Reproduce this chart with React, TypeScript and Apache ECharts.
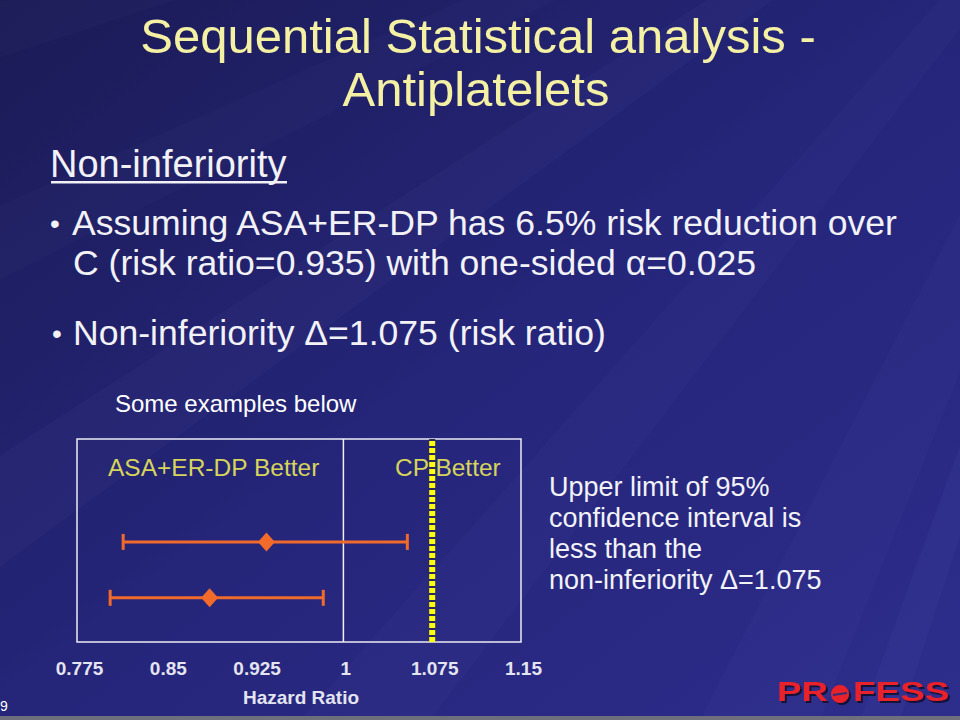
import React, { useEffect, useRef } from "react";
import * as echarts from "echarts";

// ---- data ----
const exampleNames = ["Example 1", "Example 2"];
const rowIndex = [2, 1];
const hazardRatio = [0.935, 0.887];
const lowerCI = [0.814, 0.803];
const upperCI = [1.054, 0.983];
const xTicks = [0.775, 0.85, 0.925, 1, 1.075, 1.15];
const nullValue = 1;
const nonInferiorityDelta = 1.075;
const yExtent = [0.21, 3.84];

const titleLines = ["Sequential Statistical analysis -", "Antiplatelets"];
const heading = "Non-inferiority";
const bullet1 = ["Assuming ASA+ER-DP has 6.5% risk reduction over", "C (risk ratio=0.935) with one-sided \u03b1=0.025"];
const bullet2 = "Non-inferiority \u0394=1.075 (risk ratio)";
const noteText = "Some examples below";
const leftLabel = "ASA+ER-DP Better";
const rightLabel = "CP Better";
const sideText = ["Upper limit of 95%", "confidence interval is", "less than the", "non-inferiority \u0394=1.075"];

const FONT = "'Liberation Sans', Arial, sans-serif";

export default function App() {
  const ref = useRef<HTMLDivElement>(null);
  useEffect(() => {
    if (!ref.current) return;
    const chart = echarts.init(ref.current, undefined, { renderer: "svg" });

    const errData = rowIndex.map((r, i) => [r, lowerCI[i], upperCI[i], exampleNames[i]]);
    const pointData = rowIndex.map((r, i) => [hazardRatio[i], r]);

    // background rays from upper-right
    const rays: any[] = [];
    const origin = [1250, -350];
    const rayDefs = [
      [[980, 720], [1060, 720], 0.04],
      [[700, 720], [820, 720], 0.028],
      [[300, 720], [430, 720], 0.025],
      [[-100, 520], [-100, 640], 0.03],
      [[-100, 250], [-100, 330], 0.025],
      [[-100, 30], [-100, 90], 0.02],
      [[860, 720], [900, 720], 0.035],
    ];
    rayDefs.forEach((d: any) => {
      rays.push({
        type: "polygon",
        z: -10,
        silent: true,
        shape: { points: [origin, d[0], d[1]] },
        style: { fill: `rgba(180,190,255,${d[2]})` },
      });
    });

    const txt = (text: string, x: number, y: number, font: string, fill: string, align = "left", extra: any = {}) => ({
      type: "text",
      x,
      y,
      z: 50,
      silent: true,
      ...extra,
      style: { text, x: 0, y: 0, font, fill, textAlign: align, textVerticalAlign: "middle", ...(extra.style || {}) },
    });

    const graphics: any[] = [
      ...rays,
      txt(titleLines[0], 478, 36, `49px ${FONT}`, "#f4f0a4", "center"),
      txt(titleLines[1], 476, 89, `49px ${FONT}`, "#f4f0a4", "center"),
      txt(heading, 50, 164, `38px ${FONT}`, "#f2f2f6"),
      { type: "rect", z: 50, silent: true, shape: { x: 51, y: 181, width: 236, height: 2.5 }, style: { fill: "#f2f2f6" } },
      txt("\u2022", 55, 223, `28px ${FONT}`, "#f2f2f6", "center"),
      txt(bullet1[0], 72, 223, `35.6px ${FONT}`, "#f2f2f6"),
      txt(bullet1[1], 73, 263, `35.6px ${FONT}`, "#f2f2f6"),
      txt("\u2022", 57, 333, `28px ${FONT}`, "#f2f2f6", "center"),
      txt(bullet2, 73, 333, `35.6px ${FONT}`, "#f2f2f6"),
      txt(noteText, 115, 403, `24px ${FONT}`, "#ffffff"),
      txt(leftLabel, 108, 467, `24.5px ${FONT}`, "#d6d45c"),
      txt(rightLabel, 395, 467, `24.5px ${FONT}`, "#d6d45c"),
      ...sideText.map((s, i) => txt(s, 549, 487 + i * 31, `27px ${FONT}`, "#f2f2f6")),
      txt("9", 0, 706, `14px ${FONT}`, "#ffffff"),
      { type: "rect", z: 50, silent: true, shape: { x: 0, y: 716, width: 960, height: 4 }, style: { fill: "#6e6e7c" } },
      // logo
      txt("PR", 777, 691, `bold 28px ${FONT}`, "#e8202a", "left", {
        scaleX: 1.31,
        style: { textShadowColor: "rgba(0,0,0,0.6)", textShadowOffsetX: 2, textShadowOffsetY: 2, textShadowBlur: 1 },
      }),
      { type: "circle", z: 50, silent: true, shape: { cx: 840, cy: 694, r: 9 }, style: { fill: "#e8202a", shadowColor: "rgba(0,0,0,0.6)", shadowOffsetX: 2, shadowOffsetY: 2 } },
      { type: "line", z: 51, silent: true, shape: { x1: 833, y1: 695, x2: 847, y2: 693 }, style: { stroke: "#30307a", lineWidth: 2 } },
      txt("FESS", 853, 691, `bold 28px ${FONT}`, "#e8202a", "left", {
        scaleX: 1.32,
        style: { textShadowColor: "rgba(0,0,0,0.6)", textShadowOffsetX: 2, textShadowOffsetY: 2, textShadowBlur: 1 },
      }),
    ];

    const vLine = (xv: number, color: string, width: number, type: any, z: number, name: string) => ({
      type: "line",
      name,
      data: [
        [xv, yExtent[0]],
        [xv, yExtent[1]],
      ],
      symbol: "none",
      silent: true,
      z,
      lineStyle: { color, width, type },
    });

    chart.setOption({
      animation: false,
      backgroundColor: new echarts.graphic.LinearGradient(0, 0, 1, 1, [
        { offset: 0, color: "#1b1b56" },
        { offset: 0.5, color: "#25257a" },
        { offset: 1, color: "#2d2d8c" },
      ]),
      textStyle: { fontFamily: FONT },
      grid: {
        left: 77,
        right: 439,
        top: 439,
        bottom: 78,
        show: true,
        borderColor: "#ececf4",
        borderWidth: 1.5,
        backgroundColor: "transparent",
      },
      xAxis: {
        type: "value",
        min: xTicks[0],
        max: xTicks[xTicks.length - 1],
        name: "Hazard Ratio",
        nameLocation: "middle",
        nameGap: 46,
        nameTextStyle: { color: "#e4e4f0", fontSize: 19, fontWeight: "bold", fontFamily: FONT, padding: [0, 0, 0, 4] },
        axisLine: { show: false },
        axisTick: { show: false },
        splitLine: { show: false },
        axisLabel: {
          customValues: xTicks,
          color: "#e4e4f0",
          fontSize: 19,
          fontWeight: "bold",
          fontFamily: FONT,
          margin: 17,
          padding: [0, 0, 0, 5],
          formatter: (v: number) => String(v),
        },
      },
      yAxis: {
        type: "value",
        min: yExtent[0],
        max: yExtent[1],
        show: false,
        splitLine: { show: false },
      },
      graphic: graphics,
      series: [
        vLine(nullValue, "#f0f0f8", 1.5, "solid", 2, "No difference"),
        vLine(nonInferiorityDelta, "#2a2a50", 6, "solid", 2, "Margin base"),
        vLine(nonInferiorityDelta, "#ffff10", 6, [5, 2], 2, "Non-inferiority margin"),
        {
          type: "custom",
          name: "95% CI",
          data: errData,
          encode: { x: [1, 2], y: 0 },
          z: 3,
          renderItem: (params: any, api: any) => {
            const y = api.value(0);
            const lo = api.coord([api.value(1), y]);
            const hi = api.coord([api.value(2), y]);
            const cap = 8;
            const st = { stroke: "#f06a2c", lineWidth: 3 };
            return {
              type: "group",
              children: [
                { type: "line", shape: { x1: lo[0], y1: lo[1], x2: hi[0], y2: hi[1] }, style: st },
                { type: "line", shape: { x1: lo[0], y1: lo[1] - cap, x2: lo[0], y2: lo[1] + cap }, style: st },
                { type: "line", shape: { x1: hi[0], y1: hi[1] - cap, x2: hi[0], y2: hi[1] + cap }, style: st },
              ],
            };
          },
        },
        {
          type: "scatter",
          name: "Hazard ratio",
          data: pointData,
          symbol: "diamond",
          symbolSize: [17, 19],
          z: 4,
          itemStyle: { color: "#f26b2a", opacity: 1 },
        },
      ],
    });
    return () => chart.dispose();
  }, []);
  return <div ref={ref} style={{ position: "fixed", left: 0, top: 0, width: 960, height: 720 }} />;
}
